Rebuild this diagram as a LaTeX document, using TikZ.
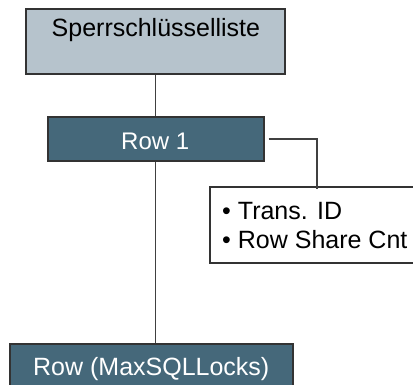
\documentclass[tikz,border=0pt]{standalone}
\usepackage{fontspec}
\setmainfont{Liberation Sans}
\begin{document}
\begin{tikzpicture}[x=1pt,y=-1pt,
  lightbox/.style={draw=black!80,line width=1.2pt,fill=boxlight,inner sep=0pt},
  darkbox/.style={draw=black!80,line width=1.2pt,fill=boxdark,inner sep=0pt},
  infobox/.style={draw=black!80,line width=1.2pt,fill=white,inner sep=0pt},
  wire/.style={draw=black!75,line width=1.4pt},
  txt/.style={font=\fontsize{25}{29}\selectfont,inner sep=0pt,anchor=base west}]
\definecolor{boxlight}{HTML}{B6C3CC}
\definecolor{boxdark}{HTML}{45687A}
\useasboundingbox (0,0) rectangle (413,384);
\clip (0,0) rectangle (413,384);
% boxes
\node[lightbox,minimum width=259pt,minimum height=65pt] (top) at (155.5,41.5) {};
\node[txt] (toptxt) at (51.5,36) {Sperrschlüsselliste};
\node[darkbox,minimum width=216pt,minimum height=44pt] (row1) at (156,139) {};
\node[txt,text=white,font=\fontsize{24}{29}\selectfont] (row1txt) at (121,149) {Row 1};
\node[infobox,minimum width=240pt,minimum height=76pt] (info) at (330,225) {};
\node[txt] (l1) at (222,219) {\textbullet\ Trans. ID};
\node[txt] (l2) at (222,248) {\textbullet\ Row Share Cnt};
\node[darkbox,minimum width=283pt,minimum height=60pt] (rowmax) at (151.5,374) {};
\node[txt,text=white] (rowmaxtxt) at (33,375) {Row (MaxSQLLocks)};
% connectors
\coordinate (bend) at (317,139);
\draw[wire] (top.south -| 155.5,0) -- (row1.north -| 155.5,0);
\draw[wire] (row1.south -| 155.5,0) -- (rowmax.north -| 155.5,0);
\draw[wire] ([xshift=4pt]row1.east) -- (bend) -- ([yshift=-3pt]info.north -| bend);
\end{tikzpicture}
\end{document}
